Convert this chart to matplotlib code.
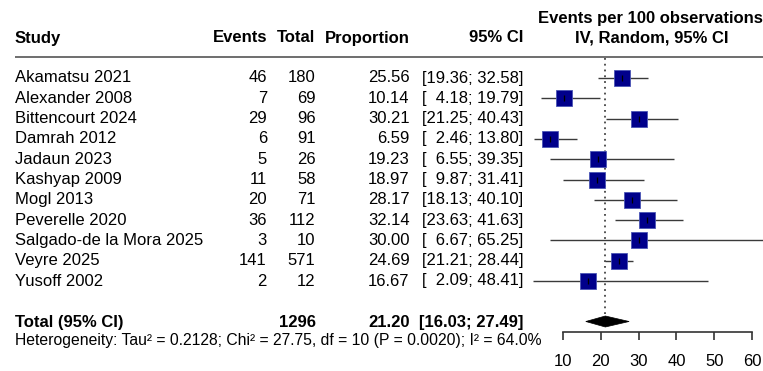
import matplotlib
matplotlib.use("Agg")
import matplotlib.pyplot as plt
from matplotlib.patches import Polygon

# ---- data -------------------------------------------------------------
studies = ["Akamatsu 2021", "Alexander 2008", "Bittencourt 2024", "Damrah 2012",
           "Jadaun 2023", "Kashyap 2009", "Mogl 2013", "Peverelle 2020",
           "Salgado-de la Mora 2025", "Veyre 2025", "Yusoff 2002"]
events = [46, 7, 29, 6, 5, 11, 20, 36, 3, 141, 2]
totals = [180, 69, 96, 91, 26, 58, 71, 112, 10, 571, 12]
proportion = [25.56, 10.14, 30.21, 6.59, 19.23, 18.97, 28.17, 32.14, 30.00, 24.69, 16.67]
ci_low = [19.36, 4.18, 21.25, 2.46, 6.55, 9.87, 18.13, 23.63, 6.67, 21.21, 2.09]
ci_high = [32.58, 19.79, 40.43, 13.80, 39.35, 31.41, 40.10, 41.63, 65.25, 28.44, 48.41]

pooled_total = 1296
pooled_est = 21.20
pooled_low = 16.03
pooled_high = 27.49

heterogeneity = ("Heterogeneity: Tau\u00b2 = 0.2128; Chi\u00b2 = 27.75, df = 10 "
                 "(P = 0.0020); I\u00b2 = 64.0%")
axis_ticks = [10, 20, 30, 40, 50, 60]

# ---- layout -----------------------------------------------------------
W, H = 763, 371
FONT = "Liberation Sans"
FS = 12

fig = plt.figure(figsize=(W / 100, H / 100), dpi=100)

# text layer: x and y in pixels
tx = fig.add_axes([0, 0, 1, 1])
tx.set_xlim(0, W)
tx.set_ylim(H, 0)
tx.axis("off")

# forest layer: x in data units, y in pixels
px_per_unit = (752 - 563) / 50.0
x0 = 10 - 563 / px_per_unit
x1 = 10 + (W - 563) / px_per_unit
ax = fig.add_axes([0, 0, 1, 1], facecolor="none")
ax.set_xlim(x0, x1)
ax.set_ylim(H, 0)

row0, row_step = 78.0, 20.3
rows = [row0 + i * row_step for i in range(len(studies))]
total_base = 327.0
total_y = 321.5
het_base = 345.0

col_study = 15
col_events = 267
col_total = 315.5
col_prop = 409.5
col_ci = 523.5

# headers
hdr_y = 38.0
kw_b = dict(fontsize=FS, fontweight="bold", family=FONT, va="center")
tx.text(col_study, hdr_y, "Study", ha="left", **kw_b)
tx.text(col_events, hdr_y, "Events", ha="right", **kw_b)
tx.text(col_total, hdr_y, "Total", ha="right", **kw_b)
tx.text(col_prop, hdr_y, "Proportion", ha="right", **kw_b)
tx.text(col_ci, hdr_y, "95% CI", ha="right", **kw_b)
tx.text(650, 18.0, "Events per 100 observations", ha="center", **kw_b)
tx.text(652, hdr_y, "IV, Random, 95% CI", ha="center", **kw_b)
tx.plot([15, W], [57, 57], color="#555555", lw=1.2, solid_capstyle="butt")

# study rows
kw = dict(fontsize=FS, family=FONT, va="center")
for y, s, e, n, p, lo, hi in zip(rows, studies, events, totals, proportion, ci_low, ci_high):
    tx.text(col_study, y, s, ha="left", **kw)
    tx.text(col_events, y, f"{e}", ha="right", **kw)
    tx.text(col_total, y, f"{n}", ha="right", **kw)
    tx.text(col_prop, y, f"{p:.2f}", ha="right", **kw)
    tx.text(col_ci, y, f"[{lo:5.2f}; {hi:5.2f}]".replace("[ ", "[\u2007"), ha="right", **kw)

# pooled row
kw_t = dict(fontsize=FS, fontweight="bold", family=FONT, va="baseline")
tx.text(col_study, total_base, "Total (95% CI)", ha="left", **kw_t)
tx.text(col_total, total_base, f"{pooled_total}", ha="right", **kw_t)
tx.text(col_prop, total_base, f"{pooled_est:.2f}", ha="right", **kw_t)
tx.text(col_ci, total_base, f"[{pooled_low:.2f}; {pooled_high:.2f}]", ha="right", **kw_t)
tx.text(col_study, het_base, heterogeneity, ha="left", fontsize=11.3, family=FONT,
        va="baseline")

# forest: reference line at pooled estimate
ax.vlines(pooled_est, 58, 314, colors="#444444", linestyles=(0, (1, 2.2)), lw=1.3)

# confidence intervals and boxes
for y, p, lo, hi in zip(rows, proportion, ci_low, ci_high):
    ax.plot([lo, hi], [y, y], color="#3a3a3a", lw=1.0, solid_capstyle="butt")
    ax.plot(p, y, marker="s", markersize=11, markerfacecolor="#00008b",
            markeredgecolor="#4a55b5", markeredgewidth=0.6, linestyle="none")
    ax.plot(p, y, marker="|", markersize=4.5, color="black", mew=0.9, linestyle="none")

# pooled diamond
half_h = 5.5
ax.add_patch(Polygon([(pooled_low, total_y), (pooled_est, total_y - half_h),
                      (pooled_high, total_y), (pooled_est, total_y + half_h)],
                     closed=True, facecolor="black", edgecolor="black", lw=0.5))

# x axis
for side in ("top", "left", "right"):
    ax.spines[side].set_visible(False)
ax.spines["bottom"].set_position(("data", 331.7))
ax.spines["bottom"].set_bounds(axis_ticks[0], axis_ticks[-1])
ax.spines["bottom"].set_linewidth(1.2)
ax.spines["bottom"].set_color("#333333")
ax.set_xticks(axis_ticks)
ax.set_xticklabels([str(t) for t in axis_ticks], family=FONT, fontsize=FS)
ax.tick_params(axis="x", direction="out", length=6, width=1.2, color="#333333", pad=10)
ax.set_yticks([])

fig.savefig("out.png", dpi=100)
